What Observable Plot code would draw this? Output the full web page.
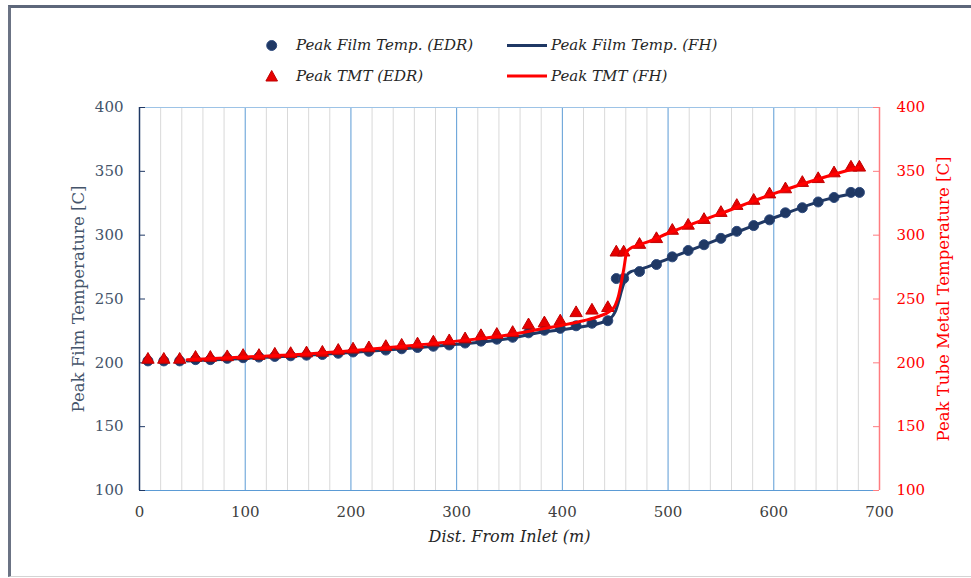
<!DOCTYPE html>
<html><head><meta charset="utf-8">
<script src="https://cdn.jsdelivr.net/npm/d3@7"></script>
<script src="https://cdn.jsdelivr.net/npm/@observablehq/plot@0.6"></script>
<style>
body{margin:0;background:#fff;}
#wrap{position:relative;width:971px;height:578px;overflow:hidden;font-family:"DejaVu Serif",serif;background:#fff;}
#frame{position:absolute;left:8px;top:5px;width:990px;height:572px;border-left:3px solid #6b7384;border-top:3px solid #5d677a;border-bottom:1px solid #d4d4d4;box-sizing:border-box;pointer-events:none;}
#legend{position:relative;height:95px;}
#legend svg{position:absolute;left:0;top:0;}
.li{position:absolute;font-style:italic;font-size:15px;color:#262626;white-space:nowrap;line-height:18px;}
#chart svg{display:block;}
</style></head><body>
<div id="wrap"><div id="legend"></div><div id="chart"></div><div id="frame"></div></div>
<script>
// ---- data ----
const dist = [8,23,38,53,67,83,98,113,128,143,158,173,188,202,217,233,248,263,278,293,308,323,338,353,368,383,398,413,428,443,451,458,473,489,504,519,534,550,565,581,596,611,627,642,657,673,681];
const filmEDR = [201.5,201.5,201.5,202.5,202.5,203.5,204,204.5,205,205.5,206,206.5,207.5,208.5,209,210,211,212,213,214,215.5,217,218.5,220,223.5,225.5,227,229,231,233,266,266,271.5,277,283,288,292.5,297.5,303,307.5,312,317.5,321.5,326,329.5,333.5,333.5];
const tmtEDR = [202.5,202.5,202.5,204,204,204.5,205.5,205.5,206.5,207,207.5,208,209.5,210.5,211.5,212.5,213.5,214.5,216,217,218.5,221,222,223.5,229.5,231,232.5,239,241,243,286.5,286.5,292.5,297,303.5,307.5,312,317.5,323,327,332,336,341,344,348.5,353,353];
const fhDist = [45,60,100,150,200,250,300,350,380,400,420,435,445,450,453,456,458,461,465,470,480,500,550,600,650,680];
const filmFH = [201.5,202,203.5,205.5,208,211,214.5,219,224,226,228.5,231,234.5,240,247.5,256.5,262,268.5,271.5,272.5,275,281.5,297.5,313.5,328,333.5];
const tmtFH = [202.5,203,204.5,206.5,209.5,213,217,222,226.5,229.5,233,236.5,240.5,245,252,264,273,287,290,291.5,294.5,301.5,317,332.5,346,353];
const xTicks = [0,100,200,300,400,500,600,700];
const xMinor = [20,40,60,80,120,140,160,180,220,240,260,280,320,340,360,380,420,440,460,480,520,540,560,580,620,640,660,680];
const yTicks = [100,150,200,250,300,350,400];
const legendLabels = ["Peak Film Temp. (EDR)","Peak Film Temp. (FH)","Peak TMT (EDR)","Peak TMT (FH)"];
const xTitle = "Dist. From Inlet (m)";
const yTitleLeft = "Peak Film Temperature [C]";
const yTitleRight = "Peak Tube Metal Temperature [C]";

// ---- styles ----
const NAVY = "#1f3864", RED = "#ff0000";
const edr = dist.map((d,i)=>({d, film: filmEDR[i], tmt: tmtEDR[i]}));
const fh = fhDist.map((d,i)=>({d, film: filmFH[i], tmt: tmtFH[i]}));

const W = 971, H = 483, mL = 139, mR = 92, mT = 12, mB = 88;
const frameW = W - mL - mR;

const chart = Plot.plot({
  width: W, height: H, marginLeft: mL, marginRight: mR, marginTop: mT, marginBottom: mB,
  style: {fontFamily: "'DejaVu Serif', serif", fontSize: "15px", background: "transparent", overflow: "visible"},
  x: {domain: [0, 700]},
  y: {domain: [100, 400]},
  marks: [
    Plot.ruleX(xMinor, {stroke: "#d9d9d9", strokeWidth: 1}),
    Plot.ruleX(xTicks.slice(1, -1), {stroke: "#5b9bd5", strokeWidth: 1}),
    Plot.ruleY([400], {stroke: "#9dc3e6", strokeWidth: 1.2}),
    Plot.ruleY([100], {stroke: "#5b9bd5", strokeWidth: 1.2}),
    Plot.ruleX([0], {stroke: NAVY, strokeWidth: 1.5}),
    Plot.ruleX([700], {stroke: "#ff7c80", strokeWidth: 1.5}),
    Plot.tickY(yTicks, {y: d => d, stroke: NAVY, strokeWidth: 1, insetRight: frameW - 6}),
    Plot.tickY(yTicks, {y: d => d, stroke: "#ff7c80", strokeWidth: 1, insetLeft: frameW - 6}),
    Plot.axisX({ticks: xTicks, tickSize: 0, tickPadding: 16, label: null, fill: "#404040"}),
    Plot.axisY({ticks: yTicks, anchor: "left", tickSize: 0, tickPadding: 16, label: null, fill: "#44546a"}),
    Plot.axisY({ticks: yTicks, anchor: "right", tickSize: 0, tickPadding: 17, label: null, fill: RED}),
    Plot.dot(edr, {x: "d", y: "film", r: 5, fill: NAVY, stroke: "#2e4a7d", strokeWidth: 1}),
    Plot.line(fh, {x: "d", y: "film", stroke: NAVY, strokeWidth: 3, curve: "monotone-x"}),
    Plot.dot(edr, {x: "d", y: "tmt", symbol: "triangle", r: 4.6, fill: "#e60000", stroke: "#c00000", strokeWidth: 1}),
    Plot.line(fh, {x: "d", y: "tmt", stroke: RED, strokeWidth: 3, curve: "monotone-x"}),
    Plot.text([yTitleLeft], {text: d => d, frameAnchor: "left", textAnchor: "middle", rotate: -90, dx: -61, fill: "#44546a", fontSize: 16.5}),
    Plot.text([yTitleRight], {text: d => d, frameAnchor: "right", textAnchor: "middle", rotate: -90, dx: 64, fill: RED, fontSize: 16.5}),
    Plot.text([xTitle], {text: d => d, frameAnchor: "bottom", dy: 51, fill: "#262626", fontSize: 16, fontStyle: "italic"})
  ]
});
document.getElementById("chart").appendChild(chart);

// ---- legend (HTML above the plot) ----
const lg = document.getElementById("legend");
const ns = "http://www.w3.org/2000/svg";
const ls = document.createElementNS(ns, "svg");
ls.setAttribute("width", W); ls.setAttribute("height", 95);
ls.innerHTML =
  `<circle cx="271.7" cy="45.5" r="5" fill="${NAVY}" stroke="#2e4a7d"/>` +
  `<line x1="507" x2="547" y1="45.5" y2="45.5" stroke="${NAVY}" stroke-width="3"/>` +
  `<path d="M271.7,70.5 L277.5,81 L265.9,81 Z" fill="#e60000" stroke="#c00000"/>` +
  `<line x1="507" x2="547" y1="76" y2="76" stroke="${RED}" stroke-width="3"/>`;
lg.appendChild(ls);
const pos = [[296,36],[551,36],[296,67.3],[551,67.3]];
legendLabels.forEach((t,i)=>{
  const s = document.createElement("div");
  s.className = "li"; s.textContent = t;
  s.style.left = pos[i][0] + "px"; s.style.top = pos[i][1] + "px";
  lg.appendChild(s);
});
</script>
</body></html>
